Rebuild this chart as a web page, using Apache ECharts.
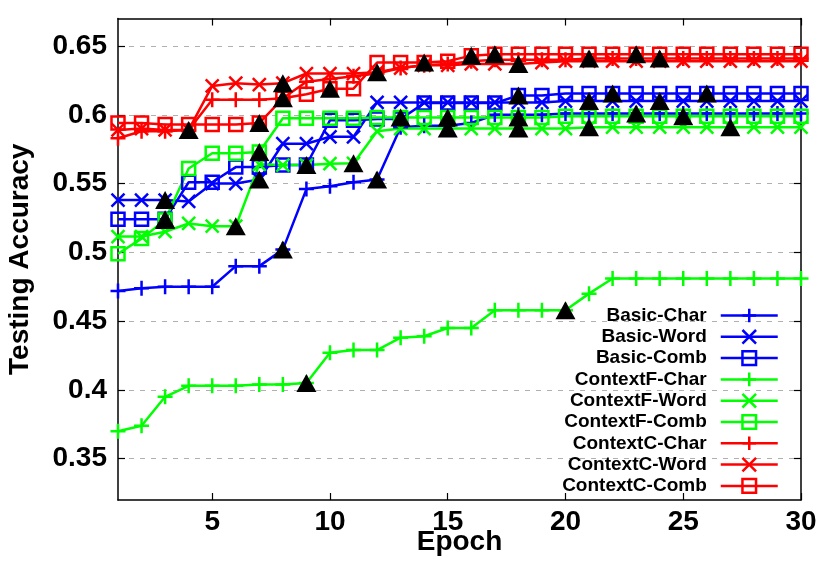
<!DOCTYPE html>
<html><head><meta charset="utf-8">
<script src="https://cdn.jsdelivr.net/npm/echarts@6/dist/echarts.min.js"></script>
<style>html,body{margin:0;padding:0;background:#fff}#c{width:830px;height:581px}</style>
</head><body><div id="c"></div>
<script>
const epochs = [1,2,3,4,5,6,7,8,9,10,11,12,13,14,15,16,17,18,19,20,21,22,23,24,25,26,27,28,29,30];
const xTicks = [5,10,15,20,25,30];
const yTicks = [0.35,0.4,0.45,0.5,0.55,0.6,0.65];
const seriesNames = ['Basic-Char','Basic-Word','Basic-Comb','ContextF-Char','ContextF-Word','ContextF-Comb','ContextC-Char','ContextC-Word','ContextC-Comb'];

const basicChar = [0.472,0.474,0.475,0.475,0.475,0.490,0.490,0.502,0.546,0.548,
                   0.551,0.553,0.591,0.592,0.592,0.594,0.600,0.600,0.600,0.601,
                   0.601,0.601,0.601,0.601,0.601,0.601,0.601,0.601,0.601,0.601];
const basicWord = [0.538,0.538,0.538,0.537,0.550,0.550,0.553,0.579,0.579,0.584,
                   0.584,0.609,0.609,0.609,0.609,0.609,0.609,0.609,0.609,0.610,
                   0.610,0.610,0.610,0.610,0.610,0.610,0.610,0.610,0.610,0.610];
const basicComb = [0.524,0.524,0.524,0.551,0.551,0.562,0.562,0.5635,0.5635,0.596,
                   0.596,0.597,0.597,0.6085,0.6085,0.6085,0.6085,0.614,0.614,0.6155,
                   0.6155,0.6155,0.6155,0.6155,0.6155,0.6155,0.6155,0.6155,0.6155,0.6155];
const cfChar = [0.370,0.374,0.395,0.403,0.403,0.403,0.404,0.404,0.405,0.427,
                0.429,0.429,0.438,0.439,0.445,0.445,0.458,0.458,0.458,0.458,
                0.470,0.481,0.481,0.481,0.481,0.481,0.481,0.481,0.481,0.481];
const cfWord = [0.5115,0.5115,0.515,0.521,0.519,0.519,0.564,0.5635,0.5635,0.5645,
                0.5647,0.588,0.590,0.590,0.590,0.590,0.590,0.590,0.590,0.590,
                0.591,0.591,0.591,0.591,0.591,0.591,0.591,0.591,0.591,0.591];
const cfComb = [0.499,0.510,0.5235,0.561,0.572,0.572,0.573,0.5975,0.5975,0.5975,
                0.5975,0.598,0.598,0.598,0.598,0.598,0.598,0.598,0.598,0.599,
                0.599,0.599,0.599,0.599,0.599,0.599,0.599,0.599,0.599,0.599];
const ccChar = [0.583,0.588,0.588,0.589,0.611,0.611,0.611,0.612,0.624,0.626,
                0.628,0.630,0.634,0.636,0.637,0.639,0.640,0.640,0.640,0.640,
                0.641,0.641,0.641,0.641,0.641,0.641,0.641,0.641,0.641,0.641];
const ccWord = [0.589,0.590,0.589,0.589,0.621,0.623,0.622,0.623,0.630,0.630,
                0.630,0.631,0.634,0.636,0.636,0.637,0.637,0.637,0.638,0.639,
                0.639,0.639,0.639,0.639,0.639,0.639,0.639,0.639,0.639,0.639];
const ccComb = [0.594,0.594,0.593,0.593,0.593,0.593,0.594,0.612,0.615,0.619,
                0.619,0.638,0.638,0.638,0.639,0.643,0.644,0.644,0.644,0.644,
                0.644,0.644,0.644,0.644,0.644,0.644,0.644,0.644,0.644,0.644];

// epochs marked with a black triangle, per series
const triBasicChar = [8,12,23];
const triBasicWord = [3,7,21,24];
const triBasicComb = [3,9,18,22,26];
const triCfChar = [9,20];
const triCfWord = [6,11,15,18,21,27];
const triCfComb = [3,7,13,15,18,25];
const triCcChar = [21,24];
const triCcWord = [4,8,12,18];
const triCcComb = [7,8,10,14,16,17,23];

const FONT = 'Liberation Sans';
const BLUE = '#0000ff', GREEN = '#00ff00', RED = '#ff0000';
const PLUS = 'path://M0,5L10,5M5,0L5,10';
const CROSS = 'path://M0,0L10,10M10,0L0,10';

function mk(name, vals, color, symbol, size) {
  return {
    name, type: 'line', data: epochs.map((e, i) => [e, vals[i]]),
    symbol, symbolSize: size, color,
    lineStyle: {color, width: 2.5},
    itemStyle: {color: 'none', borderColor: color, borderWidth: 2.5},
    z: 2, animation: false
  };
}
const allVals = [basicChar, basicWord, basicComb, cfChar, cfWord, cfComb, ccChar, ccWord, ccComb];
const allTri = [triBasicChar, triBasicWord, triBasicComb, triCfChar, triCfWord, triCfComb, triCcChar, triCcWord, triCcComb];
const colors = [BLUE, BLUE, BLUE, GREEN, GREEN, GREEN, RED, RED, RED];
const symbols = [PLUS, CROSS, 'rect', PLUS, CROSS, 'rect', PLUS, CROSS, 'rect'];
const sizes = [15, 13, 13, 15, 13, 13, 15, 13, 13];

const series = seriesNames.map((n, i) => mk(n, allVals[i], colors[i], symbols[i], sizes[i]));
const triData = [];
allTri.forEach((eps, i) => eps.forEach(e => triData.push([e, allVals[i][epochs.indexOf(e)]])));
series.push({
  name: 'marks', type: 'scatter', data: triData, symbol: 'triangle', symbolSize: [20, 18],
  itemStyle: {color: '#000', opacity: 1}, z: 5, silent: true, animation: false
});

const labelStyle = {fontFamily: FONT, fontWeight: 'bold', fontSize: 28, color: '#000'};
const axLine = {onZero: false, lineStyle: {color: '#000', width: 1.5}};
const tick = (vals) => ({inside: true, length: 7, customValues: vals, lineStyle: {color: '#000', width: 1.2}});

const option = {
  animation: false,
  backgroundColor: '#fff',
  grid: {left: 118, right: 29, top: 18.5, bottom: 81, outerBoundsMode: 'none', containLabel: false},
  xAxis: [
    {type: 'value', min: 1, max: 30, position: 'bottom',
     name: 'Epoch', nameLocation: 'middle', nameGap: 28, nameMoveOverlap: false, nameTextStyle: labelStyle,
     axisLine: axLine, axisTick: tick(xTicks),
     axisLabel: Object.assign({customValues: xTicks, margin: 8}, labelStyle),
     splitLine: {show: false}},
    {type: 'value', min: 1, max: 30, position: 'top',
     axisLine: axLine, axisTick: tick(xTicks), axisLabel: {show: false}, splitLine: {show: false}}
  ],
  yAxis: [
    {type: 'value', min: 0.32, max: 0.67, position: 'left',
     name: 'Testing Accuracy', nameLocation: 'middle', nameGap: 84, nameMoveOverlap: false, nameTextStyle: labelStyle,
     axisLine: axLine, axisTick: tick(yTicks),
     axisLabel: Object.assign({customValues: yTicks, margin: 11, formatter: v => String(+(+v).toFixed(2))}, labelStyle),
     splitLine: {show: true, lineStyle: {color: '#b0b0b0', width: 1, type: [5, 6]}}},
    {type: 'value', min: 0.32, max: 0.67, position: 'right',
     axisLine: axLine, axisTick: tick(yTicks), axisLabel: {show: false}, splitLine: {show: false}}
  ],
  legend: {
    data: seriesNames, orient: 'vertical', right: 51, top: 306, align: 'right', padding: 0,
    itemWidth: 57, itemHeight: 17, itemGap: 2.3, selectedMode: false,
    textStyle: {fontFamily: FONT, fontWeight: 'bold', fontSize: 19, color: '#000', lineHeight: 17, padding: [0, 9, 0, 0]},
    itemStyle: {borderWidth: 2.5}, lineStyle: {width: 2.5}
  },
  series
};
const chart = echarts.init(document.getElementById('c'), null, {renderer: 'canvas'});
chart.setOption(option);
</script></body></html>
